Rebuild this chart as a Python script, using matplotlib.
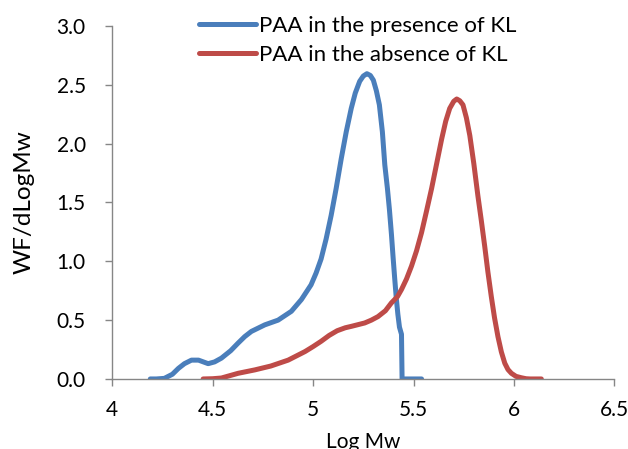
import matplotlib
matplotlib.use("Agg")
import matplotlib.pyplot as plt

# Blue: PAA in the presence of KL
x_blue = [4.19, 4.22, 4.26, 4.30, 4.33, 4.36, 4.395, 4.43, 4.478, 4.51, 4.544, 4.59, 4.627,
          4.66, 4.693, 4.76, 4.826, 4.892, 4.942, 4.99, 5.015, 5.04, 5.065, 5.09, 5.115,
          5.14, 5.165, 5.19, 5.21, 5.232, 5.25, 5.268, 5.285, 5.30, 5.315, 5.33, 5.345,
          5.357, 5.37, 5.38, 5.39, 5.398, 5.406, 5.414, 5.422, 5.43, 5.44, 5.443,
          5.47, 5.50, 5.54]
y_blue = [0.0, 0.0, 0.005, 0.04, 0.09, 0.13, 0.16, 0.16, 0.13, 0.145, 0.177, 0.24, 0.305,
          0.36, 0.404, 0.46, 0.50, 0.575, 0.675, 0.80, 0.90, 1.02, 1.19, 1.39, 1.62,
          1.87, 2.10, 2.30, 2.43, 2.53, 2.575, 2.595, 2.58, 2.54, 2.45, 2.33, 2.10,
          1.82, 1.62, 1.44, 1.23, 1.04, 0.86, 0.69, 0.55, 0.44, 0.38, 0.0,
          0.0, 0.0, 0.0]

# Red: PAA in the absence of KL
x_red = [4.453, 4.50, 4.544, 4.627, 4.71, 4.79, 4.876, 4.96, 5.00, 5.04, 5.08, 5.12,
         5.16, 5.19, 5.22, 5.257, 5.29, 5.323, 5.36, 5.39, 5.42, 5.44, 5.465, 5.49,
         5.515, 5.54, 5.565, 5.59, 5.615, 5.64, 5.66, 5.68, 5.70, 5.715, 5.73, 5.746,
         5.763, 5.78, 5.80, 5.82, 5.837, 5.854, 5.87, 5.887, 5.903, 5.92, 5.937, 5.954,
         5.97, 5.987, 6.01, 6.037, 6.06, 6.08, 6.136]
y_red = [0.0, 0.002, 0.008, 0.048, 0.077, 0.11, 0.16, 0.233, 0.275, 0.32, 0.37, 0.41,
         0.435, 0.447, 0.46, 0.476, 0.50, 0.53, 0.58, 0.647, 0.70, 0.76, 0.85, 0.96,
         1.09, 1.245, 1.43, 1.62, 1.83, 2.04, 2.19, 2.30, 2.36, 2.38, 2.365, 2.33,
         2.22, 2.07, 1.83, 1.56, 1.35, 1.13, 0.91, 0.70, 0.52, 0.36, 0.23, 0.134,
         0.08, 0.048, 0.022, 0.01, 0.002, 0.0, 0.0]

labels = ["PAA in the presence of KL", "PAA in the absence of KL"]
x_ticks = [4, 4.5, 5, 5.5, 6, 6.5]
x_tick_labels = ["4", "4.5", "5", "5.5", "6", "6.5"]
y_ticks = [0.0, 0.5, 1.0, 1.5, 2.0, 2.5, 3.0]

plt.rcParams['font.family'] = ['Lato', 'DejaVu Sans']

fig = plt.figure(figsize=(6.28, 4.49), dpi=100)
ax = fig.add_axes([0.1785, 0.156, 0.800, 0.786])

blue = "#4A7EBB"
red = "#BE4B48"
l1, = ax.plot(x_blue, y_blue, color=blue, lw=3.6, solid_capstyle='round', solid_joinstyle='round')
l2, = ax.plot(x_red, y_red, color=red, lw=3.6, solid_capstyle='round', solid_joinstyle='round')

ax.set_xlim(4, 6.5)
ax.set_ylim(0, 3.0)
ax.set_xticks(x_ticks)
ax.set_xticklabels(x_tick_labels)
ax.set_yticks(y_ticks)
ax.set_yticklabels([f"{v:.1f}" for v in y_ticks])

for s in ['top', 'right']:
    ax.spines[s].set_visible(False)
for s in ['left', 'bottom']:
    ax.spines[s].set_color('#868686')
    ax.spines[s].set_linewidth(1.0)
ax.tick_params(axis='both', direction='out', length=5, width=1, color='#868686',
               labelsize=15, labelcolor='black')
ax.tick_params(axis='y', pad=14)
ax.tick_params(axis='x', pad=10)

ax.set_xlabel("Log Mw", fontsize=15, labelpad=9)
ax.set_ylabel("WF/dLogMw", fontsize=17.5, labelpad=16)

fig.legend([l1, l2], labels, loc='upper left', bbox_to_anchor=(0.3025, 0.985),
           frameon=False, fontsize=16, handlelength=2.56, handletextpad=0.15,
           labelspacing=0.42, borderaxespad=0)

fig.savefig("out.png", dpi=100)
